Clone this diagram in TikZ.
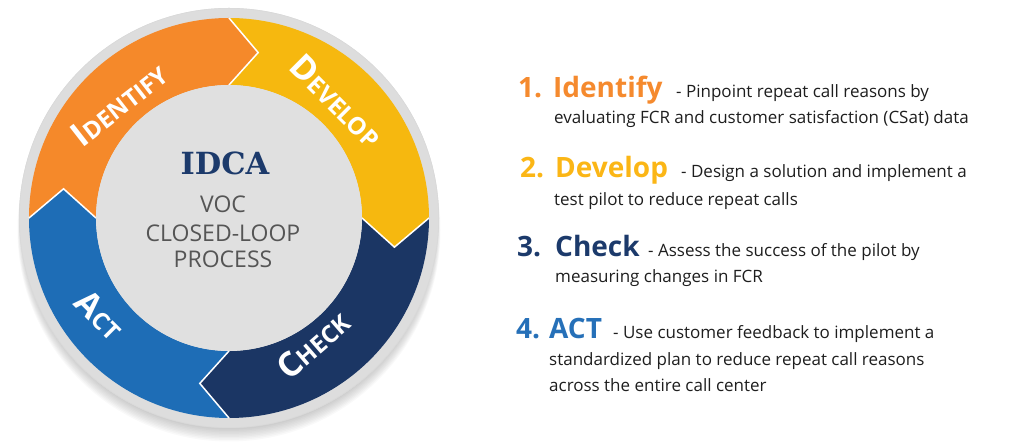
\documentclass[tikz,border=0pt]{standalone}
\usepackage{fontspec}
\setmainfont{Open Sans}
\newfontfamily\slabfont{DejaVu Serif}
\usetikzlibrary{calc}
\definecolor{segOrange}{HTML}{F5892A}
\definecolor{segYellow}{HTML}{F6B80F}
\definecolor{segNavy}{HTML}{1B3664}
\definecolor{segBlue}{HTML}{1E6DB6}
\definecolor{ringGray}{HTML}{DDDDDD}
\definecolor{coreGray}{HTML}{E0E0E0}
\definecolor{txtOrange}{HTML}{F58A2E}
\definecolor{txtYellow}{HTML}{FBB616}
\definecolor{txtNavy}{HTML}{1C3A6B}
\definecolor{txtBlue}{HTML}{2670B8}
\definecolor{bodyText}{HTML}{1E1E1E}
\definecolor{midGray}{HTML}{555555}
\tikzset{
  seglabel/.style={text=white, font=\bfseries, inner sep=0pt},
  numlabel/.style={anchor=base west, font=\bfseries\fontsize{28}{28}\selectfont, inner sep=0pt},
  titlelabel/.style={anchor=base west, font=\bfseries\fontsize{28}{28}\selectfont, inner sep=0pt},
  desclabel/.style={anchor=base west, font=\fontsize{17}{17}\selectfont, text=bodyText, inner sep=0pt},
  centerline/.style={anchor=base, font=\fontsize{23}{23}\selectfont, text=midGray, inner sep=0pt},
  sepline/.style={white, line width=1.5pt},
}
\newcommand\bigsc[2]{{\fontsize{34}{34}\selectfont #1}{\fontsize{24}{24}\selectfont #2}}
\begin{document}
\begin{tikzpicture}[x=1pt,y=1pt]
\useasboundingbox (0,0) rectangle (1024,443);
\coordinate (c) at (229,225);
% soft shadow
\foreach \i in {0,...,9} \fill[black, opacity=0.025] ($(c)+(0,-3-\i)$) circle ({207+\i*0.5});
% outer gray ring
\fill[ringGray] (c) circle (210);
\draw[gray!30, line width=0.6pt] (c) circle (209.7);
% four arrow segments
\begin{scope}[shift={(229,225)}]
  \foreach \a/\col in {180/segOrange, 90/segYellow, 0/segNavy, -90/segBlue} {
    \pgfmathsetmacro\angB{\a-90}
    \pgfmathsetmacro\angT{\a-100}
    \pgfmathsetmacro\angN{\a-10}
    \fill[\col] (\a:200) arc[start angle=\a, end angle=\angB, radius=200]
      -- (\angT:168) -- (\angB:133)
      arc[start angle=\angB, end angle=\a, radius=133]
      -- (\angN:168) -- cycle;
  }
  \foreach \a in {180,90,0,-90} {
    \pgfmathsetmacro\angN{\a-10}
    \draw[sepline] (\a:200) -- (\angN:168) -- (\a:133);
  }
\end{scope}
\fill[coreGray] (c) circle (133);
% segment labels
\node[seglabel, rotate=38] (lblI) at (119,339) {\bigsc{I}{DENTIFY}};
\node[seglabel, rotate=-45] (lblD) at (337,342) {\bigsc{D}{EVELOP}};
\node[seglabel, rotate=41] (lblC) at (313,98) {\bigsc{C}{HECK}};
\node[seglabel, rotate=-45] (lblA) at (100,128) {\bigsc{A}{CT}};
% centre text
\node[anchor=base, font=\slabfont\bfseries\fontsize{30.5}{30.5}\selectfont, text=txtNavy, inner sep=0pt] (idca) at (225,268) {IDCA};
\node[centerline] (voc) at (223,230) {VOC};
\node[centerline] (closed) at (223,201) {CLOSED-LOOP};
\node[centerline] (process) at (223,175) {PROCESS};
% right-hand list
\node[numlabel, text=txtOrange] (n1) at (518,345) {1.};
\node[titlelabel, text=txtOrange] (t1) at (553,345) {Identify};
\node[desclabel] (d1a) at (676,345) {- Pinpoint repeat call reasons by};
\node[desclabel] (d1b) at (554,319) {evaluating FCR and customer satisfaction (CSat) data};
\node[numlabel, text=txtYellow] (n2) at (520,265) {2.};
\node[titlelabel, text=txtYellow] (t2) at (555,265) {Develop};
\node[desclabel] (d2a) at (681,265) {- Design a solution and implement a};
\node[desclabel] (d2b) at (554,237) {test pilot to reduce repeat calls};
\node[numlabel, text=txtNavy] (n3) at (517,186) {3.};
\node[titlelabel, text=txtNavy] (t3) at (555,186) {Check};
\node[desclabel] (d3a) at (648,186) {- Assess the success of the pilot by};
\node[desclabel] (d3b) at (555,160) {measuring changes in FCR};
\node[numlabel, text=txtBlue] (n4) at (516,104) {4.};
\node[titlelabel, text=txtBlue] (t4) at (549,104) {ACT};
\node[desclabel] (d4a) at (613,104) {- Use customer feedback to implement a};
\node[desclabel] (d4b) at (549,77) {standardized plan to reduce repeat call reasons};
\node[desclabel] (d4c) at (549,51) {across the entire call center};
\end{tikzpicture}
\end{document}
